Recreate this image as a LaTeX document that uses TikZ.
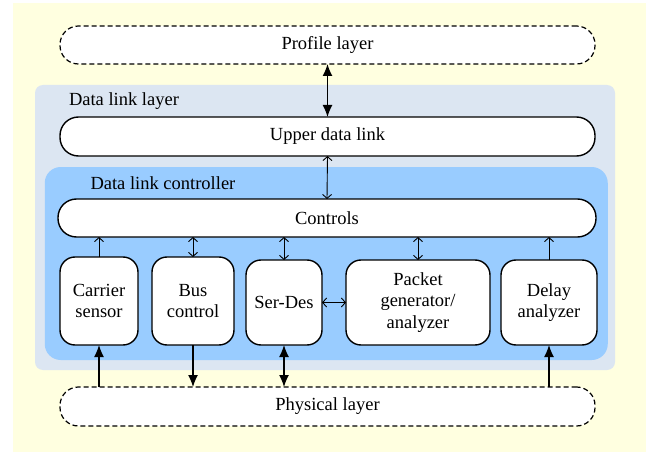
\documentclass[tikz,border=0pt]{standalone}
\usepackage{fontspec}
\setmainfont{Liberation Serif}
\usetikzlibrary{arrows.meta}
\definecolor{bgyellow}{RGB}{255,255,224}
\definecolor{dllblue}{RGB}{220,230,242}
\definecolor{dlcblue}{RGB}{153,204,255}
\begin{document}
\begin{tikzpicture}[x=1pt,y=-1pt,
  every node/.style={font=\rmfamily\fontsize{18.5}{21.5}\selectfont, inner sep=0pt, outer sep=0pt},
  region/.style={draw=none, rectangle},
  pill/.style={draw, fill=white, line width=1.4pt, rounded corners=18.5pt, align=center},
  dashpill/.style={pill, line width=1.2pt, dash pattern=on 5pt off 3pt},
  block/.style={draw, fill=white, line width=1.4pt, rounded corners=15pt, align=center},
  bigarrow/.style={line width=1.3pt, -{Latex[width=10pt,length=12pt]}},
  bigdbl/.style={line width=1.3pt, {Latex[width=10pt,length=12pt]}-{Latex[width=10pt,length=12pt]}},
  smallarrow/.style={line width=0.9pt, -{Straight Barb[length=4pt,width=9pt]}},
  smalldbl/.style={line width=0.9pt, {Straight Barb[length=4pt,width=9pt]}-{Straight Barb[length=4pt,width=9pt]}}
]
\useasboundingbox (0,0) rectangle (646,452);
% background
\fill[bgyellow] (13,3) rectangle (646,452);
% regions
\node[region, fill=dllblue, rounded corners=8pt, minimum width=580pt, minimum height=285pt] (dll) at (325,227.5) {};
\node[region, fill=dlcblue, rounded corners=16pt, minimum width=563pt, minimum height=193pt] (dlc) at (326.25,263.5) {};
\node[anchor=west] (dlllabel) at (69,101) {Data link layer};
\node[anchor=west] (dlclabel) at (90.5,183) {Data link controller};
% main nodes
\node[dashpill, minimum width=535pt, minimum height=38pt] (profile) at (327.5,45) {Profile layer};
\node[pill, minimum width=535pt, minimum height=39pt] (upper) at (327.5,136.5) {Upper data link};
\node[pill, minimum width=538pt, minimum height=38pt] (controls) at (327,218) {Controls};
\node[block, minimum width=78pt, minimum height=88pt] (carrier) at (99,301) {Carrier\\sensor};
\node[block, minimum width=82pt, minimum height=88pt] (bus) at (193,301) {Bus\\control};
\node[block, minimum width=76pt, minimum height=85pt] (serdes) at (284,302.5) {Ser-Des};
\node[block, minimum width=144pt, minimum height=85pt] (packet) at (418,302.5) {Packet\\generator/\\analyzer};
\node[block, minimum width=96pt, minimum height=85pt] (delay) at (549,302.5) {Delay\\analyzer};
\node[dashpill, minimum width=535pt, minimum height=39pt] (physical) at (327.5,406.5) {Physical layer};
% connectors
\draw[bigdbl] (profile.south) -- (upper.north);
\draw[smalldbl] (upper.south) -- (controls.north);
\draw[smallarrow] (carrier.north) -- (carrier.north |- controls.south);
\draw[smalldbl] (bus.north) -- (bus.north |- controls.south);
\draw[smalldbl] (serdes.north) -- (serdes.north |- controls.south);
\draw[smalldbl] (packet.north) -- (packet.north |- controls.south);
\draw[smallarrow] (delay.north) -- (delay.north |- controls.south);
\draw[smalldbl] (serdes.east) -- (packet.west);
\draw[bigarrow] (carrier.south |- physical.north) -- (carrier.south);
\draw[bigarrow] (bus.south) -- (bus.south |- physical.north);
\draw[bigdbl] (serdes.south) -- (serdes.south |- physical.north);
\draw[bigarrow] (delay.south |- physical.north) -- (delay.south);
\end{tikzpicture}
\end{document}
